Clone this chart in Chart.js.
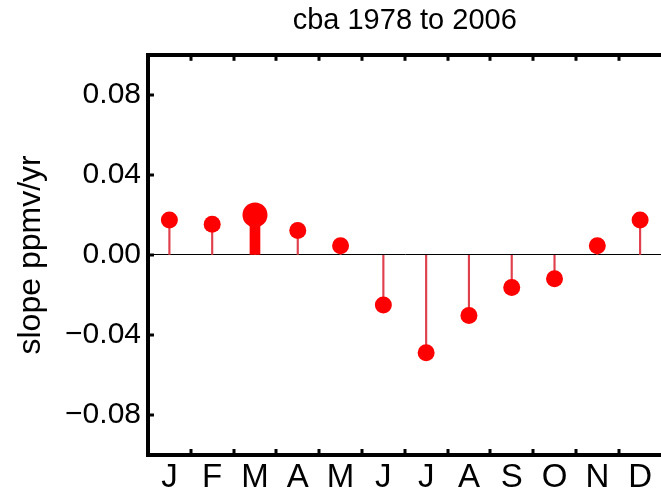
<!DOCTYPE html>
<html>
<head>
<meta charset="utf-8">
<title>cba 1978 to 2006</title>
<script src="https://cdn.jsdelivr.net/npm/chart.js@4.4.1/dist/chart.umd.min.js"></script>
<style>
  html, body { margin: 0; padding: 0; overflow: hidden; background: #fff; }
  #wrap { width: 670px; height: 490px; }
</style>
</head>
<body>
<div id="wrap"><canvas id="slopeChart"></canvas></div>
<script>
// monthly trend, ppmv per year
const months = ["J", "F", "M", "A", "M", "J", "J", "A", "S", "O", "N", "D"];
const slopes = [0.0174, 0.0153, 0.0200, 0.0122, 0.0046, -0.0250, -0.0489, -0.0303, -0.0163, -0.0119, 0.0046, 0.0174];
const significant = [false, false, true, false, false, false, false, false, false, false, false, false];
const yTicks = [-0.08, -0.04, 0, 0.04, 0.08];

Chart.defaults.font.family = "'Liberation Sans', Arial, sans-serif";
Chart.defaults.color = "#000";

// small tick marks pointing into the plot box
const inwardTicks = {
    id: "inwardTicks",
    afterDatasetsDraw(chart) {
        const { ctx, chartArea: a, scales: { x, y } } = chart;
        ctx.save();
        ctx.fillStyle = "#000";
        yTicks.forEach(v => {
            const py = Math.round(y.getPixelForValue(v));
            ctx.fillRect(a.left, py - 1.5, 6, 3);
        });
        for (let i = 0; i < months.length - 1; i++) {
            const px = Math.round((x.getPixelForValue(i) + x.getPixelForValue(i + 1)) / 2);
            ctx.fillRect(px - 1.5, a.top, 3, 6);
            ctx.fillRect(px - 1.5, a.bottom - 6, 3, 6);
        }
        ctx.restore();
    }
};

new Chart(document.getElementById("slopeChart"), {
    type: "bar",
    data: {
        labels: months,
        datasets: [
            {
                type: "line",
                data: slopes,
                xAxisID: "x",
                showLine: false,
                pointRadius: c => significant[c.dataIndex] ? 12.5 : 8.5,
                pointBackgroundColor: "#ff0000",
                pointBorderWidth: 0,
                order: 0,
            },
            {
                data: slopes.map((v, i) => significant[i] ? v : null),
                xAxisID: "x",
                backgroundColor: "#ff0000",
                barThickness: 10,
                grouped: false,
                order: 1,
            },
            {
                data: slopes,
                xAxisID: "x",
                backgroundColor: "#e0404c",
                barThickness: 1.5,
                grouped: false,
                order: 2,
            },
        ],
    },
    options: {
        responsive: true,
        maintainAspectRatio: false,
        animation: false,
        events: [],
        layout: { padding: { left: 0, right: 4, top: 0, bottom: 0 } },
        plugins: {
            legend: { display: false },
            tooltip: { enabled: false },
            title: {
                display: true,
                text: "cba 1978 to 2006",
                fullSize: false,
                color: "#000",
                font: { size: 29, weight: "normal" },
                padding: { top: 4, bottom: 14 },
            },
        },
        scales: {
            x: {
                position: "bottom",
                offset: true,
                grid: { display: false, drawTicks: false },
                border: { display: true, color: "#000", width: 4 },
                ticks: { color: "#000", font: { size: 33 }, padding: 3, maxRotation: 0, autoSkip: false },
                afterFit: s => { s.height = 35; },
            },
            xTop: {
                axis: "x",
                type: "category",
                position: "top",
                labels: months,
                offset: true,
                grid: { display: false, drawTicks: false },
                border: { display: true, color: "#000", width: 4 },
                ticks: { display: false },
                afterFit: s => { s.height = 2; },
            },
            y: {
                min: -0.1,
                max: 0.1,
                afterBuildTicks: s => { s.ticks = yTicks.map(v => ({ value: v })); },
                grid: {
                    color: c => (c.tick && c.tick.value === 0) ? "#000" : "rgba(0,0,0,0)",
                    lineWidth: 1,
                    drawTicks: false,
                },
                border: { display: true, color: "#000", width: 4 },
                ticks: {
                    color: "#000",
                    font: { size: 30 },
                    padding: 7,
                    callback: v => (v < 0 ? "\u2212" : "") + Math.abs(v).toFixed(2),
                },
                title: {
                    display: true,
                    text: "slope ppmv/yr",
                    color: "#000",
                    font: { size: 32 },
                    padding: { top: 12, bottom: 0 },
                },
                afterFit: s => { s.width = 148; },
            },
        },
    },
    plugins: [inwardTicks],
});
</script>
</body>
</html>
